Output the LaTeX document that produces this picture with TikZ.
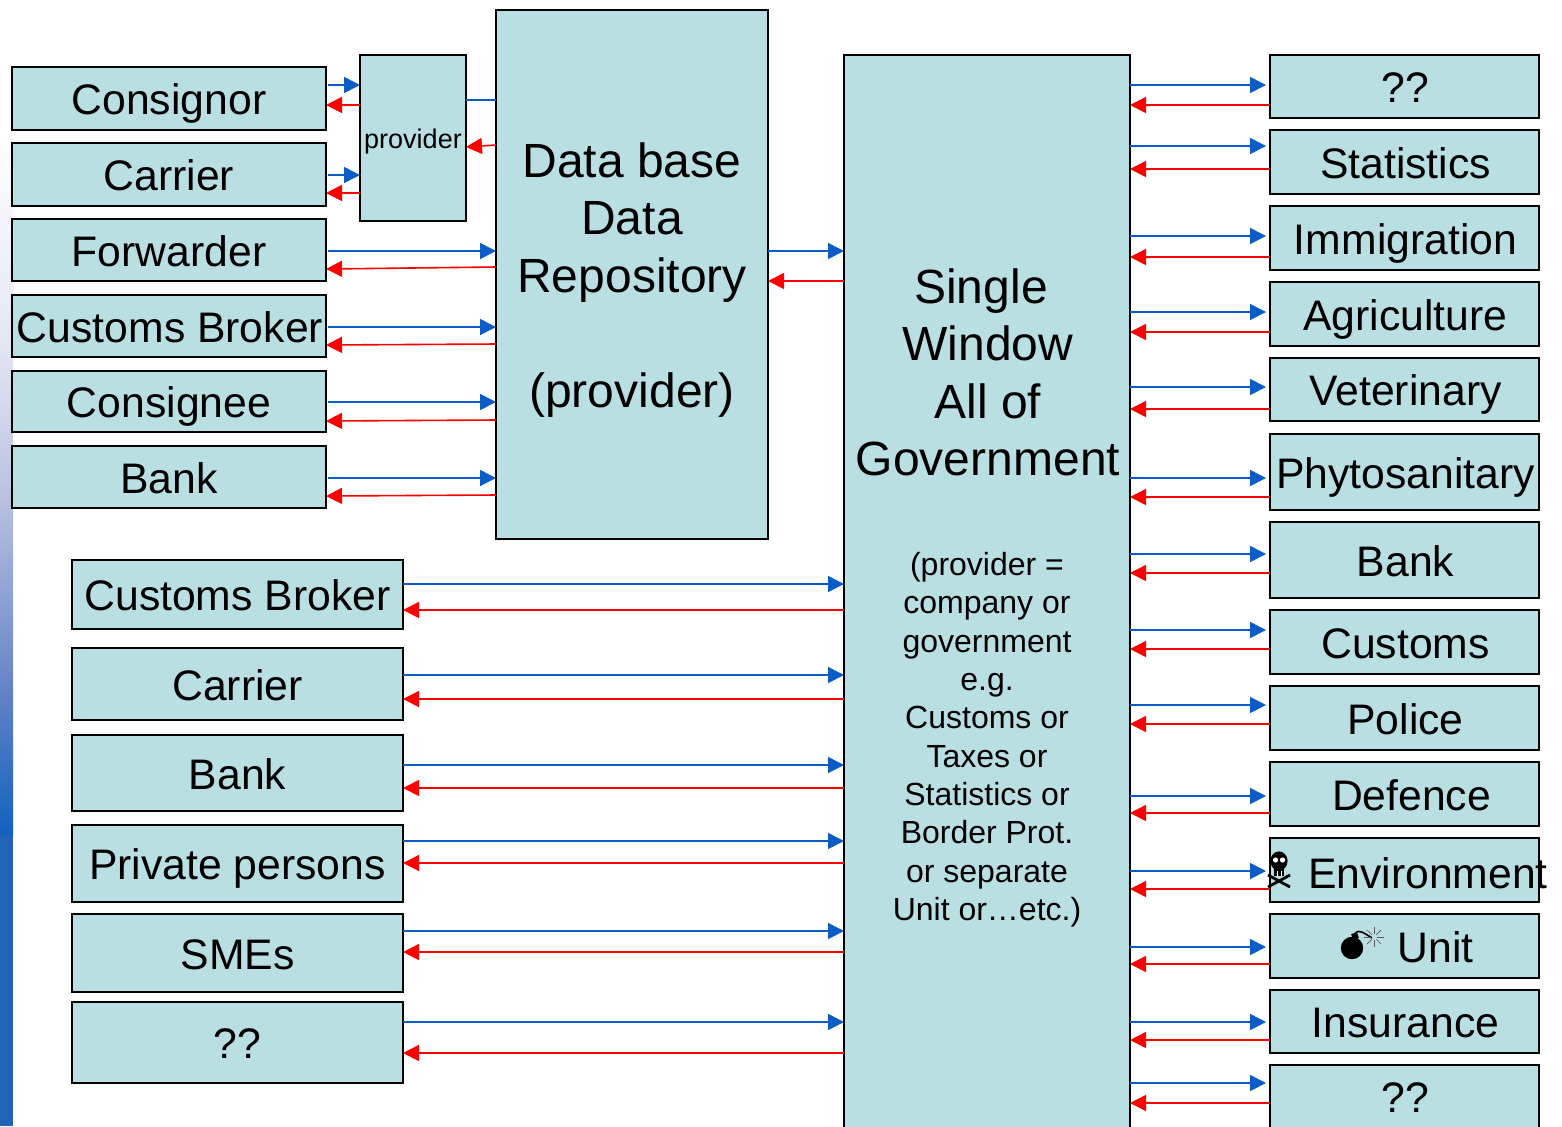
\documentclass[tikz,border=0pt]{standalone}
\usepackage{fontspec}
\setmainfont{Liberation Sans}
\usetikzlibrary{arrows.meta}

\definecolor{boxfill}{HTML}{B9DFE3}
\definecolor{arrowblue}{HTML}{0B5CC6}
\definecolor{arrowred}{HTML}{FF0000}
\definecolor{stripa}{HTML}{E4E7F3}
\definecolor{stripb}{HTML}{B9C1E1}
\definecolor{stripc}{HTML}{5F80C6}
\definecolor{stripd}{HTML}{0F62BF}
\definecolor{stripe}{HTML}{2063B8}

\tikzset{
  infobox/.style={draw=black,fill=boxfill,line width=1pt,inner sep=0pt,outer sep=0pt,
    text height=16.2pt,text depth=0pt,font=\fontsize{21.35}{25.5}\selectfont},
  bigtext/.style={align=center,inner sep=0pt,font=\fontsize{24}{28.8}\selectfont},
  smalltext/.style={align=center,inner sep=0pt,font=\fontsize{16}{19.15}\selectfont},
  bluearrow/.style={draw=arrowblue,line width=0.8pt,-{Triangle[length=8pt,width=8pt]}},
  redarrow/.style={draw=arrowred,line width=0.8pt,-{Triangle[length=8pt,width=8pt]}},
}

% box from its corners in pixels
\newcommand{\bx}[6]{\node[infobox,minimum width={(#4-#2)*0.5pt},minimum height={(#5-#3)*0.5pt}]
  (#1) at ({(#2+#4)/2},{(#3+#5)/2}) {#6};}
\newcommand{\rt}{\hspace*{1pt}}

\begin{document}
\begin{tikzpicture}[x=0.5pt,y=-0.5pt]

    \useasboundingbox (0,0) rectangle (1562,1126);

    % shaded strip
    \shade[top color=white,bottom color=stripa] (0,130) rectangle (13,340);
    \shade[top color=stripa,bottom color=stripb] (0,340) rectangle (13,500);
    \shade[top color=stripb,bottom color=stripc] (0,500) rectangle (13,700);
    \shade[top color=stripc,bottom color=stripd] (0,700) rectangle (13,835);
    \fill[stripe] (0,835) rectangle (13,1126);

    % submitters on top left
    \bx{consignor}{12}{67}{326}{130}{Consignor}
    \bx{carrierA}{12}{143}{326}{206}{Carrier}
    \bx{forwarder}{12}{219}{326}{281}{Forwarder}
    \bx{brokerA}{12}{295}{326}{357}{\rt Customs Broker}
    \bx{consignee}{12}{371}{326}{432}{Consignee}
    \bx{bankA}{12}{446}{326}{508}{Bank}

    % submitters on bottom left
    \bx{brokerB}{72}{560}{403}{629}{Customs Broker}
    \bx{carrierB}{72}{648}{403}{720}{Carrier}
    \bx{bankB}{72}{735}{403}{811}{Bank}
    \bx{persons}{72}{825}{403}{902}{Private persons}
    \bx{smes}{72}{914}{403}{992}{SMEs}
    \bx{otherA}{72}{1002}{403}{1083}{??}

    % middle
    \bx{provider}{360}{55}{466}{221}{}
    \node[font=\fontsize{13.5}{16}\selectfont,inner sep=0pt] (providertext) at (413,142) {provider};
    \bx{db}{496}{10}{768}{539}{}
    \node[bigtext,anchor=north] (dbtext) at (632,142) {Data base\\Data\\Repository\\[28.8pt](provider)};
    \bx{sw}{844}{55}{1130}{1140}{}
    \node[bigtext,anchor=north] (swtext) at (988,268) {Single\hspace*{7pt}\\Window\\All of\\Government};
    \node[smalltext,anchor=north] (swnote) at (987,552) {(provider =\\company or\\government\\e.g.\\Customs or\\Taxes or\\Statistics or\\Border Prot.\\or separate\\Unit or…etc.)};

    % authorities on the right
    \bx{otherB}{1270}{55}{1539}{118}{\rt??}
    \bx{statistics}{1270}{130}{1539}{194}{\rt Statistics}
    \bx{immigration}{1270}{206}{1539}{270}{\rt Immigration}
    \bx{agriculture}{1270}{282}{1539}{346}{\rt Agriculture}
    \bx{veterinary}{1270}{358}{1539}{421}{\rt Veterinary}
    \bx{phyto}{1270}{434}{1539}{510}{\rt Phytosanitary}
    \bx{bankC}{1270}{522}{1539}{598}{\rt Bank}
    \bx{customs}{1270}{610}{1539}{674}{\rt Customs}
    \bx{police}{1270}{686}{1539}{750}{\rt Police}
    \bx{defence}{1270}{762}{1539}{826}{\hspace*{7pt}Defence}
    \bx{environment}{1270}{838}{1539}{902}{}
    \bx{unit}{1270}{914}{1539}{978}{\hspace*{31pt}Unit}
    \bx{insurance}{1270}{990}{1539}{1053}{\rt Insurance}
    \bx{otherC}{1270}{1065}{1539}{1140}{\rt\raisebox{3pt}{??}}

    % arrows top left
    \foreach \n/\a/\b in {consignor/85/105,carrierA/175/193} {
      \draw[bluearrow,shorten <=1pt] (\n.east |- 0,\a) -- (provider.west |- 0,\a);
      \draw[redarrow] (provider.west |- 0,\b) -- (\n.east |- 0,\b);
    }
    \foreach \n/\a/\b/\c in {forwarder/251/267/269,brokerA/327/344/345,consignee/402/420/421,bankA/478/495/496} {
      \draw[bluearrow,shorten <=1pt] (\n.east |- 0,\a) -- (db.west |- 0,\a);
      \draw[redarrow] (db.west |- 0,\b) -- (\n.east |- 0,\c);
    }
    \draw[bluearrow,-] (provider.east |- 0,100) -- (db.west |- 0,100);
    \draw[redarrow] (db.west |- 0,145) -- (provider.east |- 0,147);
    \draw[bluearrow] (db.east |- 0,251) -- (sw.west |- 0,251);
    \draw[redarrow] (sw.west |- 0,281) -- (db.east |- 0,281);

    % arrows bottom left
    \foreach \n/\a/\b in {brokerB/584/610,carrierB/675/699,bankB/765/788,persons/841/863,smes/931/952,otherA/1022/1053} {
      \draw[bluearrow] (\n.east |- 0,\a) -- (sw.west |- 0,\a);
      \draw[redarrow] (sw.west |- 0,\b) -- (\n.east |- 0,\b);
    }

    % arrows right
    \foreach \n/\a/\b in {otherB/85/105,statistics/146/169,immigration/236/257,agriculture/312/332,
        veterinary/387/409,phyto/478/497,bankC/554/573,customs/630/649,police/705/724,defence/796/813,
        environment/871/889,unit/947/964,insurance/1022/1040,otherC/1083/1103} {
      \draw[bluearrow,shorten >=2pt] (sw.east |- 0,\a) -- (\n.west |- 0,\a);
      \draw[redarrow] (\n.west |- 0,\b) -- (sw.east |- 0,\b);
    }

    % environment label with skull
    \node[inner sep=0pt,font=\fontsize{21.35}{25.5}\selectfont] (envtext) at (1428,873) {Environment};
    \fill (1279,861) ellipse (4.3pt and 4.8pt);
    \fill[white] (1275.5,860) circle (1.3pt) (1282.5,860) circle (1.3pt);
    \fill (1274,866) rectangle (1284,876);
    \draw[white,line width=0.3pt] (1277,871) -- (1277,876) (1281,871) -- (1281,876);
    \draw[line width=1.4pt] (1268,875) -- (1290,887) (1290,875) -- (1268,887);

    % bomb
    \fill (1352,948) circle (5.6pt);
    \fill[rotate around={20:(1355,936)}] (1352,933) rectangle (1358,939);
    \draw[line width=0.8pt] (1355,933) .. controls (1359,929) and (1364,933) .. (1372,938);
    \foreach \a in {0,45,...,315}
      \draw[line width=0.35pt,gray!70!black] (1374,937) ++(\a:1.6pt) -- ++(\a:3.4pt);

  \end{tikzpicture}
\end{document}
